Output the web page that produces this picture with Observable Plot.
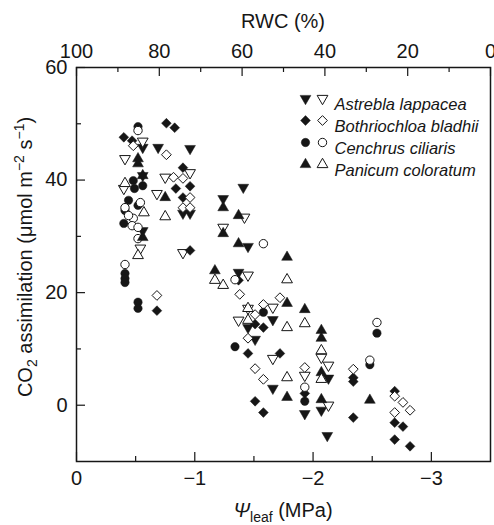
<!DOCTYPE html>
<html><head><meta charset="utf-8">
<script src="https://cdn.jsdelivr.net/npm/d3@7"></script>
<script src="https://cdn.jsdelivr.net/npm/@observablehq/plot@0.6"></script>
<style>body{margin:0;background:#fff} svg{display:block}</style>
</head><body><div id="chart"></div>
<script>
// Data: [psi_leaf (MPa), CO2 assimilation (umol m-2 s-1)]
const astreblaFilled = [[-0.56,45.8],[-0.69,45.8],[-0.96,45.6],[-0.56,40.8],[-0.90,34.1],[-0.96,34.1],[-1.24,36.7],[-1.41,38.7],[-0.56,31.0],[-1.45,28.2],[-1.37,23.6],[-1.66,15.2],[-1.45,13.8],[-1.51,11.7],[-1.66,3.0],[-2.13,4.8],[-2.07,-0.9],[-1.93,-1.5],[-2.12,-5.4]];
const astreblaOpen = [[-0.56,46.9],[-0.41,43.8],[-0.96,41.3],[-0.75,40.5],[-0.68,37.6],[-1.42,33.4],[-1.24,31.6],[-0.54,27.9],[-0.90,27.1],[-1.45,23.1],[-1.66,17.4],[-1.45,17.2],[-1.37,15.1],[-1.66,8.3],[-2.07,8.5],[-1.93,5.3],[-2.13,7.1],[-2.13,0.0],[-0.40,38.5]];
const bothriochloaFilled = [[-0.40,47.6],[-0.47,47.0],[-0.76,50.1],[-0.83,49.3],[-0.90,42.2],[-0.84,38.5],[-0.96,38.9],[-0.90,36.9],[-0.96,27.5],[-0.68,16.8],[-1.37,22.2],[-1.51,14.4],[-1.58,13.8],[-1.45,9.2],[-1.72,9.2],[-1.93,2.1],[-1.51,0.7],[-1.58,-1.3],[-2.34,4.9],[-2.34,4.2],[-2.69,2.5],[-2.69,-3.1],[-2.76,-3.8],[-2.34,-2.2],[-2.69,-6.1],[-2.82,-7.3]];
const bothriochloaOpen = [[-0.48,46.1],[-0.76,44.5],[-0.82,40.5],[-0.90,40.3],[-0.96,36.9],[-0.90,35.1],[-0.96,35.1],[-0.68,19.5],[-1.38,19.7],[-1.72,19.1],[-1.58,17.9],[-1.51,16.1],[-1.45,11.9],[-1.51,6.5],[-1.58,4.6],[-1.93,6.7],[-2.34,6.4],[-2.69,1.6],[-2.76,0.5],[-2.82,-0.9],[-2.69,-1.3]];
const cenchrusFilled = [[-0.52,49.5],[-0.48,39.9],[-0.56,39.0],[-0.49,38.5],[-0.44,36.4],[-0.52,35.5],[-0.41,34.6],[-0.40,32.3],[-0.41,23.4],[-0.41,22.5],[-0.41,21.8],[-0.52,18.3],[-0.52,17.2],[-1.58,16.5],[-1.34,10.4],[-1.93,0.7],[-2.54,12.8],[-2.48,7.2]];
const cenchrusOpen = [[-0.52,48.8],[-0.41,35.1],[-0.54,36.0],[-0.48,33.2],[-0.47,31.9],[-0.52,31.6],[-0.52,29.6],[-0.41,25.0],[-1.58,28.7],[-1.34,22.3],[-1.93,3.2],[-2.54,14.7],[-2.48,8.0],[-0.44,33.7]];
const panicumFilled = [[-0.52,43.8],[-0.52,42.9],[-0.56,40.8],[-0.75,36.9],[-1.24,35.1],[-1.37,33.7],[-1.24,30.5],[-1.37,28.7],[-0.56,29.8],[-1.78,26.3],[-1.17,23.9],[-1.78,18.1],[-1.93,17.0],[-2.07,13.3],[-2.07,11.9],[-2.07,5.8],[-1.78,1.4],[-2.07,1.0],[-2.48,0.9]];
const panicumOpen = [[-0.41,39.4],[-0.57,34.2],[-0.75,33.5],[-0.52,26.6],[-1.17,22.2],[-1.24,21.3],[-1.78,22.3],[-1.45,15.1],[-1.78,13.8],[-1.93,14.5],[-2.07,9.7],[-1.78,4.9],[-2.07,4.6],[-1.45,17.2]];

const speciesNames = ["Astrebla lappacea","Bothriochloa bladhii","Cenchrus ciliaris","Panicum coloratum"];

const xMajor = [0,-1,-2,-3];
const xMinor = [-0.5,-1.5,-2.5];
const yMajor = [0,20,40,60];
const yMinor = [10,30,50];
const rwcMajor = [100,80,60,40,20,0];
const rwcMinor = [90,70,50,30,10];

const W = 494, H = 525;
const mT = 67, mR = 4, mB = 64, mL = 76;
const fh = H - mT - mB, fw = W - mL - mR;
const xDomain = [0, -3.5], yDomain = [-10, 60];
const rwcToPsi = r => xDomain[1] * (100 - r) / 100;
const psiToRwc = p => Math.round(100 - (p / xDomain[1]) * 100);
const fmtSigned = d => d === 0 ? "0" : (d < 0 ? "\u2212" : "") + Math.abs(d);
const ink = "#161616";

const series = [
  {name: speciesNames[0], filled: astreblaFilled, open: astreblaOpen, symbol: "triangle", rotate: 180, r: 4},
  {name: speciesNames[1], filled: bothriochloaFilled, open: bothriochloaOpen, symbol: "diamond2", rotate: 0, r: 4.4},
  {name: speciesNames[2], filled: cenchrusFilled, open: cenchrusOpen, symbol: "circle", rotate: 0, r: 4.2},
  {name: speciesNames[3], filled: panicumFilled, open: panicumOpen, symbol: "triangle", rotate: 0, r: 4}
];

const marks = [];
// inward ticks
marks.push(Plot.tickX(xMajor, {x: d => d, insetTop: fh - 9, stroke: ink, strokeWidth: 1.2}));
marks.push(Plot.tickX(xMinor, {x: d => d, insetTop: fh - 5, stroke: ink, strokeWidth: 1.2}));
marks.push(Plot.tickX(rwcMajor.map(rwcToPsi), {x: d => d, insetBottom: fh - 9, stroke: ink, strokeWidth: 1.2}));
marks.push(Plot.tickX(rwcMinor.map(rwcToPsi), {x: d => d, insetBottom: fh - 5, stroke: ink, strokeWidth: 1.2}));
marks.push(Plot.tickY(yMajor, {y: d => d, insetRight: fw - 9, stroke: ink, strokeWidth: 1.2}));
marks.push(Plot.tickY(yMinor, {y: d => d, insetRight: fw - 5, stroke: ink, strokeWidth: 1.2}));
// axes labels
marks.push(Plot.axisX({anchor: "bottom", ticks: xMajor, tickSize: 0, tickPadding: 9, tickFormat: fmtSigned, label: null}));
marks.push(Plot.axisX({anchor: "top", ticks: rwcMajor.map(rwcToPsi), tickSize: 0, tickPadding: 10, tickFormat: psiToRwc, label: null}));
marks.push(Plot.axisY({anchor: "left", ticks: yMajor, tickSize: 0, tickPadding: 9, tickFormat: fmtSigned, label: null}));
// data
series.forEach(s => {
  marks.push(Plot.dot(s.filled, {x: d => d[0], y: d => d[1], symbol: s.symbol, rotate: s.rotate, r: s.r, fill: ink, stroke: ink, strokeWidth: 0.5}));
  marks.push(Plot.dot(s.open, {x: d => d[0], y: d => d[1], symbol: s.symbol, rotate: s.rotate, r: s.r, fill: "white", stroke: ink, strokeWidth: 1}));
});
// legend
series.forEach((s, i) => {
  const dy = 31 + i * 22;
  marks.push(Plot.dot([s.name], {frameAnchor: "top-left", dx: 229, dy, symbol: s.symbol, rotate: s.rotate, r: s.r, fill: ink, stroke: ink, strokeWidth: 0.5}));
  marks.push(Plot.dot([s.name], {frameAnchor: "top-left", dx: 246, dy, symbol: s.symbol, rotate: s.rotate, r: s.r, fill: "white", stroke: ink, strokeWidth: 1}));
  marks.push(Plot.text([s.name], {frameAnchor: "top-left", dx: 258, dy, text: d => d, textAnchor: "start", fontStyle: "italic", fontSize: 16.5, fill: ink}));
});
marks.push(Plot.frame({stroke: ink, strokeWidth: 1.5}));

const chart = Plot.plot({
  width: W, height: H,
  marginTop: mT, marginRight: mR, marginBottom: mB, marginLeft: mL,
  x: {domain: xDomain, label: null},
  y: {domain: yDomain, label: null},
  style: {fontFamily: "'Liberation Sans', Arial, Helvetica, sans-serif", fontSize: "20px", background: "white", color: ink},
  marks
});
document.getElementById("chart").appendChild(chart);

// axis titles with sub/superscripts
const svg = d3.select(chart);
const cx = mL + fw / 2;
svg.append("text").attr("x", cx).attr("y", 28).attr("text-anchor", "middle")
  .attr("font-size", 20).attr("fill", ink).text("RWC (%)");

const bt = svg.append("text").attr("x", cx).attr("y", 517).attr("text-anchor", "middle")
  .attr("font-size", 20).attr("fill", ink);
bt.append("tspan").attr("font-style", "italic").text("\u03A8");
bt.append("tspan").attr("font-size", 14).attr("dy", 5).text("leaf");
bt.append("tspan").attr("dy", -5).text(" (MPa)");

const yt = svg.append("text").attr("transform", "translate(32,257) rotate(-90)").attr("text-anchor", "middle")
  .attr("font-size", 20).attr("fill", ink);
yt.append("tspan").text("CO");
yt.append("tspan").attr("font-size", 14).attr("dy", 5).text("2");
yt.append("tspan").attr("dy", -5).text(" assimilation (\u03BCmol m");
yt.append("tspan").attr("font-size", 14).attr("dy", -8).text("\u22122");
yt.append("tspan").attr("dy", 8).text(" s");
yt.append("tspan").attr("font-size", 14).attr("dy", -8).text("\u22121");
yt.append("tspan").attr("dy", 8).text(")");
</script>
</body></html>
